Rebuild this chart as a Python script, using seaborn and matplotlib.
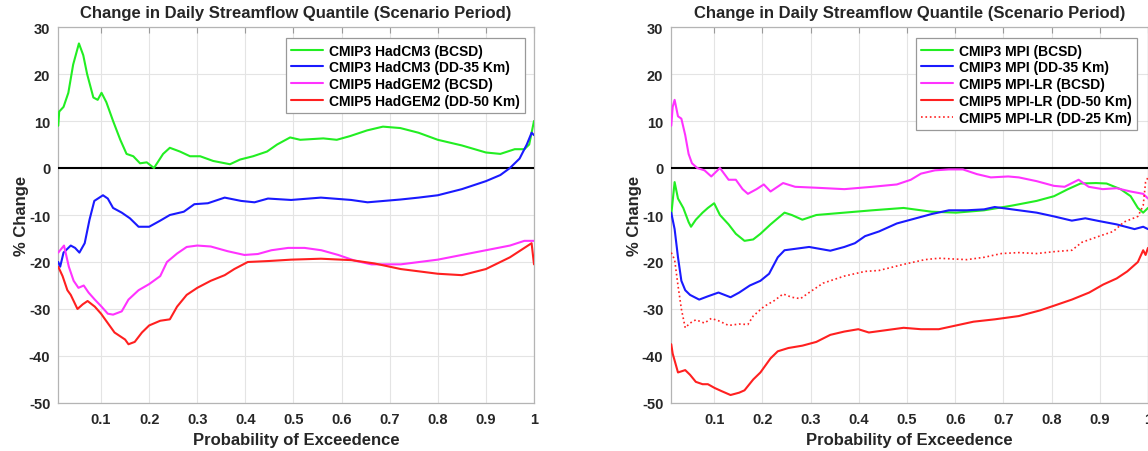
import numpy as np
import pandas as pd
import matplotlib
matplotlib.use("Agg")
import matplotlib.pyplot as plt
import seaborn as sns

# ---------------- Data ----------------
# Left panel: HadCM3 / HadGEM2
L_green_x = [0.011, 0.013, 0.022, 0.032, 0.042, 0.054, 0.063, 0.071, 0.084, 0.093, 0.101, 0.111, 0.125, 0.14,
             0.153, 0.167, 0.181, 0.195, 0.21, 0.229, 0.243, 0.264, 0.285, 0.306, 0.333, 0.368, 0.389, 0.416,
             0.445, 0.466, 0.493, 0.514, 0.562, 0.59, 0.618, 0.653, 0.686, 0.722, 0.76, 0.8, 0.85, 0.9, 0.93,
             0.96, 0.98, 0.99, 1.0]
L_green_y = [9.0, 12.0, 13.0, 16.0, 22.0, 26.5, 24.0, 20.0, 15.0, 14.5, 16.0, 14.0, 10.0, 6.0,
             3.0, 2.5, 1.0, 1.2, 0.0, 3.0, 4.3, 3.5, 2.5, 2.5, 1.5, 0.8, 1.8, 2.5,
             3.5, 5.0, 6.5, 6.0, 6.3, 6.0, 6.8, 8.0, 8.8, 8.5, 7.5, 6.0, 4.8, 3.3, 3.0,
             4.0, 4.0, 5.0, 10.0]

L_blue_x = [0.011, 0.015, 0.022, 0.037, 0.046, 0.055, 0.066, 0.076, 0.086, 0.104, 0.114, 0.125, 0.143, 0.16,
            0.178, 0.2, 0.223, 0.243, 0.272, 0.294, 0.322, 0.357, 0.391, 0.419, 0.447, 0.495, 0.557, 0.62,
            0.654, 0.723, 0.76, 0.8, 0.85, 0.9, 0.93, 0.95, 0.97, 0.985, 0.995, 1.0]
L_blue_y = [-20.0, -21.0, -18.0, -16.5, -17.0, -18.0, -16.0, -11.0, -7.0, -5.8, -6.5, -8.5, -9.5, -10.7,
            -12.5, -12.5, -11.2, -10.0, -9.3, -7.7, -7.5, -6.3, -7.0, -7.3, -6.5, -6.8, -6.3, -6.8,
            -7.3, -6.7, -6.3, -5.8, -4.5, -2.8, -1.5, 0.0, 2.0, 5.0, 7.5, 7.0]

L_mag_x = [0.011, 0.015, 0.023, 0.033, 0.043, 0.053, 0.064, 0.074, 0.087, 0.101, 0.114, 0.125, 0.143, 0.157,
           0.178, 0.2, 0.223, 0.237, 0.258, 0.278, 0.3, 0.328, 0.363, 0.398, 0.426, 0.454, 0.489, 0.523,
           0.558, 0.593, 0.627, 0.662, 0.723, 0.8, 0.85, 0.9, 0.95, 0.98, 1.0]
L_mag_y = [-18.0, -17.5, -16.5, -21.0, -24.0, -25.5, -25.0, -26.5, -28.0, -29.5, -31.0, -31.2, -30.5, -28.0,
           -26.0, -24.7, -23.0, -20.0, -18.2, -16.8, -16.5, -16.7, -17.7, -18.5, -18.3, -17.5, -17.0, -17.0,
           -17.5, -18.5, -19.7, -20.5, -20.5, -19.5, -18.5, -17.5, -16.5, -15.5, -15.5]

L_red_x = [0.011, 0.02, 0.03, 0.037, 0.051, 0.062, 0.072, 0.087, 0.1, 0.114, 0.128, 0.15, 0.157, 0.17,
           0.185, 0.2, 0.223, 0.243, 0.258, 0.278, 0.3, 0.328, 0.357, 0.377, 0.405, 0.447, 0.495, 0.557,
           0.62, 0.668, 0.723, 0.8, 0.85, 0.9, 0.95, 0.98, 0.995, 1.0]
L_red_y = [-21.0, -23.0, -26.0, -27.0, -30.0, -29.0, -28.3, -29.5, -31.0, -33.0, -35.0, -36.5, -37.5, -37.0,
           -35.0, -33.5, -32.5, -32.2, -29.5, -27.0, -25.5, -24.0, -22.8, -21.5, -20.0, -19.8, -19.5, -19.3,
           -19.6, -20.3, -21.5, -22.5, -22.8, -21.5, -19.0, -17.0, -16.0, -20.5]

# Right panel: MPI / MPI-LR
R_green_x = [0.011, 0.018, 0.025, 0.036, 0.047, 0.052, 0.062, 0.076, 0.087, 0.1, 0.112, 0.13, 0.145, 0.163,
             0.181, 0.196, 0.217, 0.232, 0.246, 0.261, 0.283, 0.312, 0.37, 0.428, 0.493, 0.551, 0.602, 0.66,
             0.718, 0.769, 0.805, 0.834, 0.86, 0.892, 0.914, 0.943, 0.964, 0.979, 0.99, 1.0]
R_green_y = [-10.0, -3.0, -6.5, -8.5, -11.5, -12.5, -11.0, -9.5, -8.5, -7.5, -10.0, -12.0, -14.0, -15.5,
             -15.2, -14.0, -12.0, -10.7, -9.5, -10.0, -11.0, -10.0, -9.5, -9.0, -8.5, -9.3, -9.5, -9.0,
             -8.0, -7.0, -6.0, -4.5, -3.3, -3.2, -3.3, -4.5, -6.0, -8.5, -9.5, -8.5]

R_blue_x = [0.011, 0.018, 0.025, 0.032, 0.04, 0.05, 0.069, 0.087, 0.109, 0.134, 0.152, 0.174, 0.196, 0.214,
            0.232, 0.246, 0.268, 0.297, 0.341, 0.37, 0.392, 0.413, 0.442, 0.479, 0.515, 0.551, 0.587, 0.624,
            0.66, 0.682, 0.718, 0.769, 0.805, 0.842, 0.87, 0.899, 0.935, 0.972, 0.99, 1.0]
R_blue_y = [-9.5, -13.0, -19.0, -24.0, -26.0, -27.0, -28.0, -27.3, -26.5, -27.5, -26.5, -25.0, -24.0, -22.5,
            -19.0, -17.5, -17.2, -16.8, -17.6, -16.8, -16.0, -14.5, -13.5, -11.8, -10.8, -9.8, -9.0, -9.0,
            -8.8, -8.3, -8.8, -9.5, -10.3, -11.2, -10.7, -11.3, -12.0, -13.0, -12.5, -13.0]

R_mag_x = [0.011, 0.014, 0.018, 0.025, 0.032, 0.04, 0.047, 0.054, 0.065, 0.08, 0.094, 0.112, 0.13, 0.145,
           0.159, 0.17, 0.188, 0.203, 0.217, 0.243, 0.268, 0.312, 0.37, 0.428, 0.479, 0.508, 0.529, 0.558,
           0.587, 0.616, 0.645, 0.674, 0.71, 0.732, 0.769, 0.805, 0.827, 0.856, 0.877, 0.906, 0.935, 0.964,
           0.99, 1.0]
R_mag_y = [9.0, 13.0, 14.5, 11.0, 10.5, 7.0, 3.0, 1.0, 0.0, -0.5, -1.8, 0.0, -2.5, -2.5,
           -4.5, -5.5, -4.5, -3.5, -5.0, -3.2, -4.0, -4.2, -4.5, -4.0, -3.5, -2.5, -1.2, -0.5,
           -0.3, -0.3, -1.3, -2.0, -1.8, -2.0, -2.8, -3.8, -4.0, -2.5, -4.0, -4.5, -4.3, -5.0,
           -5.5, -6.5]

R_red50_x = [0.011, 0.014, 0.025, 0.04, 0.05, 0.062, 0.076, 0.087, 0.101, 0.116, 0.134, 0.152, 0.163, 0.181,
             0.196, 0.217, 0.232, 0.254, 0.283, 0.312, 0.341, 0.37, 0.399, 0.421, 0.457, 0.493, 0.529, 0.566,
             0.602, 0.638, 0.682, 0.732, 0.776, 0.805, 0.842, 0.878, 0.907, 0.935, 0.957, 0.979, 0.99, 0.995,
             1.0]
R_red50_y = [-37.5, -39.5, -43.5, -43.0, -44.0, -45.5, -46.0, -46.0, -46.8, -47.5, -48.3, -47.8, -47.3, -45.0,
             -43.5, -40.5, -39.0, -38.3, -37.8, -37.0, -35.5, -34.8, -34.3, -35.0, -34.5, -34.0, -34.3, -34.3,
             -33.5, -32.7, -32.2, -31.5, -30.3, -29.3, -28.0, -26.5, -24.8, -23.5, -22.0, -20.0, -17.5, -18.5,
             -17.0]

R_red25_x = [0.011, 0.018, 0.025, 0.032, 0.04, 0.05, 0.062, 0.08, 0.094, 0.109, 0.13, 0.152, 0.17, 0.181,
             0.203, 0.225, 0.243, 0.261, 0.279, 0.297, 0.326, 0.37, 0.413, 0.442, 0.493, 0.537, 0.566, 0.624,
             0.66, 0.696, 0.732, 0.769, 0.805, 0.842, 0.863, 0.899, 0.928, 0.95, 0.979, 0.99, 0.995, 1.0]
R_red25_y = [-18.0, -19.5, -25.0, -30.0, -34.0, -33.0, -32.3, -33.0, -32.0, -32.5, -33.5, -33.2, -33.3, -31.5,
             -29.5, -28.2, -26.8, -27.5, -27.8, -26.5, -24.5, -23.0, -22.0, -21.8, -20.5, -19.5, -19.2, -19.5,
             -19.0, -18.2, -18.0, -18.2, -17.8, -17.5, -15.8, -14.5, -13.5, -11.5, -10.3, -8.0, -3.0, -2.0]

left_labels = ["CMIP3 HadCM3 (BCSD)", "CMIP3 HadCM3 (DD-35 Km)",
               "CMIP5 HadGEM2 (BCSD)", "CMIP5 HadGEM2 (DD-50 Km)"]
right_labels = ["CMIP3 MPI (BCSD)", "CMIP3 MPI (DD-35 Km)", "CMIP5 MPI-LR (BCSD)",
                "CMIP5 MPI-LR (DD-50 Km)", "CMIP5 MPI-LR (DD-25 Km)"]

x_ticks = [0.1, 0.2, 0.3, 0.4, 0.5, 0.6, 0.7, 0.8, 0.9, 1.0]
x_ticklabels = ["0.1", "0.2", "0.3", "0.4", "0.5", "0.6", "0.7", "0.8", "0.9", "1"]
y_ticks = [-50, -40, -30, -20, -10, 0, 10, 20, 30]

title_text = "Change in Daily Streamflow Quantile (Scenario Period)"
xlabel_text = "Probability of Exceedence"
ylabel_text = "% Change"

# ---------------- Style ----------------
sns.set_theme(style="whitegrid")
plt.rcParams['font.family'] = ['Liberation Sans', 'DejaVu Sans']
plt.rcParams['font.weight'] = 'bold'
plt.rcParams['axes.unicode_minus'] = False
TXT = '#262626'

GREEN, BLUE, MAGENTA, RED = '#22ee22', '#1a1aff', '#ff33ff', '#ff2020'

fig = plt.figure(figsize=(11.48, 4.52), dpi=100)
axL = fig.add_axes([58 / 1148, 48 / 452, 476 / 1148, 376 / 452])
axR = fig.add_axes([671 / 1148, 48 / 452, 477 / 1148, 376 / 452])


def style_axes(ax):
    ax.set_facecolor('white')
    ax.set_xlim(0.0105, 1.0)
    ax.set_ylim(-50, 30)
    ax.set_xticks(x_ticks)
    ax.set_xticklabels(x_ticklabels)
    ax.set_yticks(y_ticks)
    ax.grid(True, color='#e4e4e4', linewidth=0.8)
    for s in ax.spines.values():
        s.set_color('#b4b4b4')
        s.set_linewidth(0.9)
    ax.tick_params(axis='both', direction='in', length=4, width=0.8, color='#9a9a9a',
                   labelsize=10.5, labelcolor=TXT, top=True, right=False)
    ax.tick_params(axis='x', pad=6.5)
    ax.tick_params(axis='y', pad=5.5)
    for lab in ax.get_xticklabels() + ax.get_yticklabels():
        lab.set_fontweight('bold')
    ax.axhline(0, color='black', linewidth=1.5, zorder=3)
    ax.set_title(title_text, fontsize=12, fontweight='bold', color=TXT, pad=7.5)
    ax.set_xlabel(xlabel_text, fontsize=12, fontweight='bold', color=TXT, labelpad=4)


LW = 1.5
sns.lineplot(x=L_green_x, y=L_green_y, ax=axL, color=GREEN, lw=LW, label=left_labels[0], zorder=4)
sns.lineplot(x=L_blue_x, y=L_blue_y, ax=axL, color=BLUE, lw=LW, label=left_labels[1], zorder=4)
sns.lineplot(x=L_mag_x, y=L_mag_y, ax=axL, color=MAGENTA, lw=LW, label=left_labels[2], zorder=4)
sns.lineplot(x=L_red_x, y=L_red_y, ax=axL, color=RED, lw=LW, label=left_labels[3], zorder=4)

sns.lineplot(x=R_green_x, y=R_green_y, ax=axR, color=GREEN, lw=LW, label=right_labels[0], zorder=4)
sns.lineplot(x=R_blue_x, y=R_blue_y, ax=axR, color=BLUE, lw=LW, label=right_labels[1], zorder=4)
sns.lineplot(x=R_mag_x, y=R_mag_y, ax=axR, color=MAGENTA, lw=LW, label=right_labels[2], zorder=4)
sns.lineplot(x=R_red50_x, y=R_red50_y, ax=axR, color=RED, lw=LW, label=right_labels[3], zorder=4)
sns.lineplot(x=R_red25_x, y=R_red25_y, ax=axR, color=RED, lw=1.2, linestyle=':', label=right_labels[4], zorder=4)

for ax in (axL, axR):
    style_axes(ax)
    ax.set_ylabel(ylabel_text, fontsize=12, fontweight='bold', color=TXT, labelpad=0)


def make_legend(ax, x1, y1):
    leg = ax.legend(loc='upper right', bbox_to_anchor=(x1, y1), bbox_transform=fig.transFigure,
                    fontsize=10, frameon=True, fancybox=False, framealpha=1, edgecolor='#999999',
                    labelspacing=0.2, handlelength=2.3, handletextpad=0.4, borderpad=0.4,
                    borderaxespad=0)
    leg.get_frame().set_linewidth(0.9)
    for t in leg.get_texts():
        t.set_fontweight('bold')
        t.set_color('black')
    return leg


make_legend(axL, 525 / 1148, 1 - 39 / 452)
make_legend(axR, 1137 / 1148, 1 - 39 / 452)

fig.savefig('out.png', dpi=100)
